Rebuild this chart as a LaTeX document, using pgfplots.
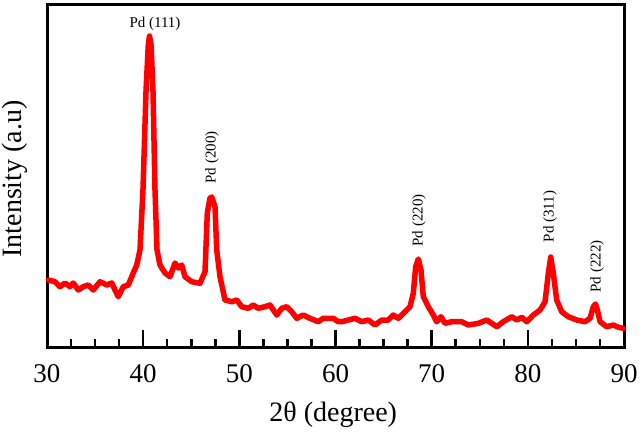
\documentclass[border=0pt]{standalone}
\usepackage{pgfplots}
\pgfplotsset{compat=1.18}
\usepackage{fontspec}
\setmainfont{Liberation Serif}

% XRD pattern of Pd nanoparticles (2theta in degrees, intensity in arbitrary units)
\pgfplotstableread{
x y
30.14 67
30.83 65.3
31.35 60.3
31.87 64
32.39 60.3
32.73 64
33.25 57
33.77 60.3
34.29 62
34.81 57
35.51 65.3
36.21 62
36.73 64
37.41 50.3
37.93 60.3
38.45 62
38.97 74
39.33 82
39.67 97
39.98 157
40.30 257
40.53 302
40.66 311
40.82 302
41.02 257
41.23 157
41.44 97
41.75 82
42.27 74
42.79 70.3
43.31 84
43.65 79
44.01 82
44.35 70.3
45.05 65.3
45.91 63.7
46.43 75.3
46.67 134
46.95 149
47.13 150
47.47 140
47.65 97
47.99 70.3
48.51 47
49.21 45.3
49.73 47
50.25 40.3
50.93 38.7
51.45 42
51.97 38.7
52.67 40.3
53.19 42
53.89 32
54.41 38.7
54.93 40.3
55.45 35.3
55.97 28.7
56.65 32
57.35 28.7
58.21 25.3
58.73 28.7
59.77 28.7
60.29 25.3
60.65 25.3
61.33 27
62.03 28.7
62.73 25.3
63.41 27
64.11 22
64.81 27
65.49 27
66.01 32
66.53 28.7
67.23 35.3
67.75 40.3
68.09 53.7
68.34 80.3
68.61 88
68.89 77
69.13 50.3
69.65 40.3
70.17 32
70.52 25.3
70.97 30.3
71.39 23.7
72.08 25.3
73.12 25.3
73.81 22
74.85 23.7
75.73 27
76.77 20.3
77.45 25.3
78.33 30.3
78.85 27
79.37 29.7
79.89 25.3
80.57 32
81.27 37
81.79 45.3
82.13 73.7
82.38 90
82.65 73.7
83.00 47
83.52 35.3
84.21 30.3
85.08 27
85.95 25.3
86.47 28.7
86.81 40.3
87.04 43
87.23 37
87.51 25.3
88.20 20.3
88.89 22
89.41 19.7
89.93 18.7
}\xrd

\begin{document}
\begin{tikzpicture}
\begin{axis}[
  scale only axis,
  width=577pt, height=343pt,
  xmin=30, xmax=90, ymin=0, ymax=343,
  xtick={30,40,...,90},
  minor x tick num=3,
  ytick=\empty,
  xtick pos=bottom,
  tick align=inside,
  major tick length=17pt,
  minor tick length=8pt,
  every tick/.style={black, line width=2.5pt},
  axis line style={line width=3pt},
  /pgf/number format/assume math mode=true,
  tick label style={font=\fontsize{27}{32}\selectfont},
  xticklabel style={anchor=north, yshift=-14pt},
  xlabel={2θ (degree)},
  ylabel={Intensity (a.u)},
  label style={font=\fontsize{28}{33}\selectfont},
  xlabel style={at={(axis description cs:0.496,-0.198)}, anchor=center},
  ylabel style={at={(axis description cs:-0.055,0.49)}, anchor=center, inner sep=0pt},
  clip=false,
]
\addplot[red, line width=5.5pt, line join=round, line cap=round] table {\xrd};
\begin{scope}[every node/.style={font=\fontsize{15}{18}\selectfont, inner sep=0pt}]
\node at (axis cs:41.23,323) {Pd (111)};
\node[rotate=90] at (axis cs:47.15,189.5) {Pd (200)};
\node[rotate=90] at (axis cs:68.68,126.5) {Pd (220)};
\node[rotate=90] at (axis cs:82.30,130.5) {Pd (311)};
\node[rotate=90] at (axis cs:87.19,80.5) {Pd (222)};
\end{scope}
\end{axis}
\pgfresetboundingbox
\path[use as bounding box] ([xshift=-47pt,yshift=-93pt]current axis.south west) rectangle ([xshift=18pt,yshift=4pt]current axis.north east);
\end{tikzpicture}
\end{document}
